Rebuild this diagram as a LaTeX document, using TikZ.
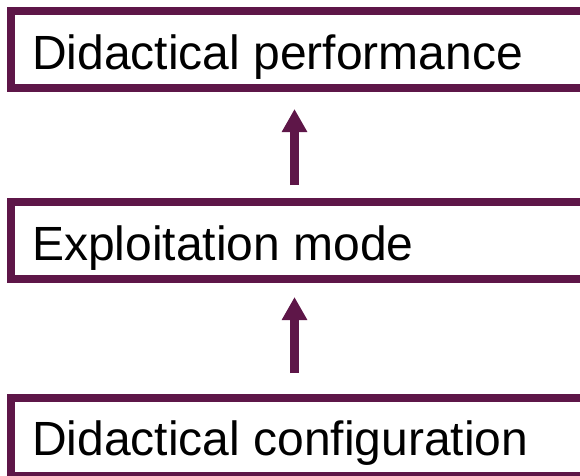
\documentclass[tikz,border=0pt]{standalone}
\usepackage{fontspec}
\setmainfont{Liberation Sans}
\usetikzlibrary{arrows.meta}
\definecolor{plum}{RGB}{94,22,72}
\tikzset{
  stage/.style={draw=plum, line width=8pt, minimum width=689pt, inner sep=0pt, anchor=north west},
  caption/.style={anchor=base west, inner sep=0pt, font=\fontsize{48}{58}\selectfont, text=black},
  flow/.style={draw=plum, line width=9pt, -{Triangle[width=24pt,length=23pt]}, color=plum}
}
\begin{document}
\begin{tikzpicture}[x=1pt,y=-1pt]
  \useasboundingbox (0,0) rectangle (580,475);
  \clip (0,0) rectangle (580,475);
  \fill[white] (0,0) rectangle (580,475);
  % stage frames (they run past the right edge)
  \node[stage, minimum height=77pt] (perf) at (7,7) {};
  \node[stage, minimum height=77pt] (mode) at (7,198) {};
  \node[stage, minimum height=78pt] (conf) at (7,394) {};
  % captions
  \node[caption] (tperf) at (32,69) {Didactical performance};
  \node[caption] (tmode) at (32,260) {Exploitation mode};
  \node[caption] (tconf) at (32,455) {Didactical configuration};
  % upward arrows
  \coordinate (ax) at (294.5,0);
  \draw[flow, shorten <=13pt, shorten >=17pt] (mode.north -| ax) -- (perf.south -| ax);
  \draw[flow, shorten <=21pt, shorten >=14pt] (conf.north -| ax) -- (mode.south -| ax);
\end{tikzpicture}
\end{document}
